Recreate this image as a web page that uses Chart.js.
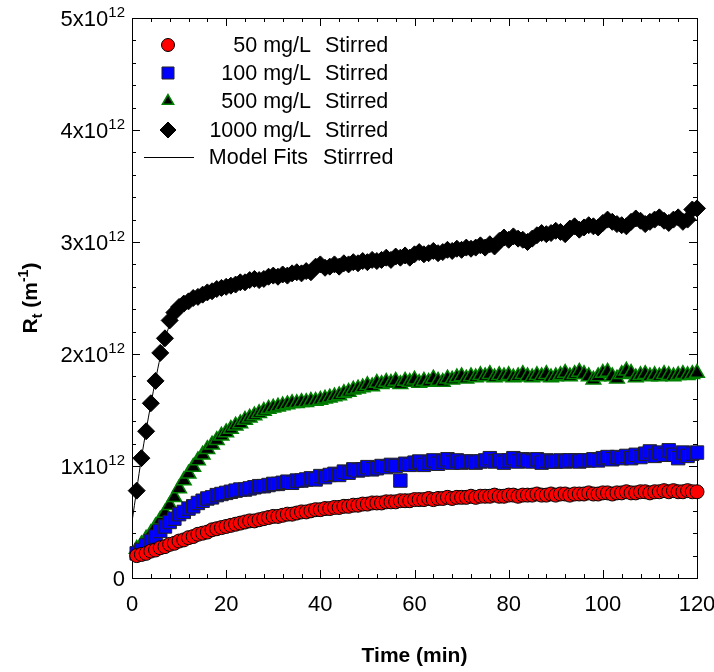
<!DOCTYPE html>
<html>
<head>
<meta charset="utf-8">
<script src="https://cdn.jsdelivr.net/npm/chart.js@4.4.1/dist/chart.umd.min.js"></script>
<style>
  html, body { margin: 0; background: #fff; }
</style>
</head>
<body>
<canvas id="chart" width="714" height="672"></canvas>
<script>
// R_t values in units of 10^12 m^-1, one sample per minute
const times = [1,2,3,4,5,6,7,8,9,10,11,12,13,14,15,16,17,18,19,20,21,22,23,24,25,26,27,28,29,30,
  31,32,33,34,35,36,37,38,39,40,41,42,43,44,45,46,47,48,49,50,51,52,53,54,55,56,57,58,59,60,
  61,62,63,64,65,66,67,68,69,70,71,72,73,74,75,76,77,78,79,80,81,82,83,84,85,86,87,88,89,90,
  91,92,93,94,95,96,97,98,99,100,101,102,103,104,105,106,107,108,109,110,111,112,113,114,115,116,117,118,119,120];

const r50 = [0.20,0.21,0.22,0.24,0.25,0.27,0.28,0.30,0.31,0.33,0.34,0.36,0.37,0.39,0.40,0.41,0.43,0.44,0.45,0.46,
  0.47,0.48,0.49,0.50,0.51,0.51,0.52,0.53,0.54,0.55,0.55,0.56,0.57,0.57,0.58,0.59,0.59,0.60,0.61,0.61,
  0.62,0.62,0.63,0.63,0.64,0.64,0.65,0.65,0.66,0.66,0.67,0.67,0.67,0.68,0.68,0.68,0.69,0.69,0.69,0.70,
  0.70,0.70,0.71,0.70,0.71,0.71,0.72,0.71,0.72,0.72,0.72,0.73,0.72,0.73,0.73,0.73,0.74,0.73,0.73,0.74,
  0.74,0.73,0.74,0.74,0.74,0.75,0.74,0.74,0.75,0.74,0.75,0.75,0.74,0.75,0.75,0.75,0.76,0.75,0.75,0.76,
  0.76,0.75,0.76,0.76,0.77,0.76,0.76,0.77,0.77,0.76,0.77,0.77,0.78,0.77,0.78,0.77,0.77,0.78,0.77,0.77];

const r100 = [0.22,0.25,0.29,0.33,0.37,0.42,0.46,0.50,0.53,0.57,0.59,0.62,0.64,0.67,0.69,0.71,0.72,0.74,0.75,0.76,
  0.77,0.78,0.79,0.79,0.80,0.81,0.82,0.82,0.83,0.84,0.84,0.85,0.86,0.85,0.87,0.87,0.88,0.89,0.88,0.91,
  0.90,0.92,0.93,0.92,0.95,0.94,0.97,0.96,0.97,0.99,0.97,0.98,1.00,0.99,1.01,1.00,0.87,1.02,1.01,1.03,
  1.04,1.01,1.03,1.05,1.02,1.04,1.06,1.03,1.05,1.03,1.04,1.04,1.03,1.04,1.05,1.07,1.04,1.05,1.03,1.05,
  1.07,1.04,1.06,1.05,1.04,1.06,1.03,1.05,1.04,1.04,1.05,1.04,1.05,1.05,1.04,1.05,1.05,1.06,1.05,1.07,
  1.08,1.06,1.08,1.07,1.09,1.07,1.10,1.08,1.11,1.13,1.09,1.12,1.10,1.14,1.10,1.07,1.12,1.09,1.11,1.12];

const r500 = [0.26,0.30,0.35,0.40,0.46,0.52,0.58,0.65,0.72,0.80,0.87,0.93,0.99,1.05,1.10,1.15,1.19,1.23,1.27,1.30,
  1.33,1.36,1.38,1.41,1.43,1.45,1.47,1.49,1.51,1.52,1.53,1.54,1.55,1.56,1.56,1.57,1.57,1.58,1.58,1.59,
  1.60,1.61,1.62,1.63,1.65,1.66,1.68,1.69,1.70,1.72,1.71,1.74,1.73,1.75,1.74,1.76,1.73,1.76,1.75,1.77,
  1.74,1.76,1.75,1.78,1.76,1.75,1.78,1.77,1.79,1.80,1.78,1.80,1.79,1.81,1.80,1.82,1.79,1.81,1.80,1.81,
  1.79,1.80,1.82,1.80,1.79,1.81,1.80,1.82,1.79,1.80,1.81,1.83,1.80,1.82,1.84,1.82,1.80,1.77,1.80,1.83,
  1.84,1.80,1.78,1.82,1.85,1.83,1.79,1.81,1.82,1.80,1.81,1.80,1.82,1.81,1.80,1.81,1.82,1.81,1.82,1.83];

const r1000 = [0.78,1.07,1.31,1.56,1.76,2.01,2.14,2.30,2.37,2.42,2.45,2.47,2.50,2.51,2.53,2.55,2.56,2.58,2.59,2.60,
  2.61,2.62,2.64,2.64,2.66,2.67,2.66,2.67,2.69,2.70,2.69,2.71,2.70,2.72,2.73,2.72,2.74,2.73,2.78,2.80,
  2.77,2.78,2.80,2.78,2.81,2.80,2.82,2.81,2.83,2.82,2.84,2.83,2.84,2.86,2.84,2.87,2.86,2.88,2.86,2.89,
  2.91,2.89,2.90,2.92,2.90,2.91,2.93,2.92,2.94,2.93,2.95,2.94,2.95,2.97,2.95,2.98,2.96,3.01,3.04,3.02,
  3.05,3.03,3.02,3.00,3.03,3.06,3.08,3.07,3.08,3.10,3.09,3.07,3.12,3.14,3.11,3.13,3.15,3.14,3.13,3.17,
  3.20,3.18,3.16,3.15,3.14,3.18,3.21,3.19,3.16,3.18,3.20,3.22,3.19,3.17,3.20,3.22,3.18,3.20,3.29,3.30];

// model fit curves
const fitTimes = [0,1,2,3,4,5,6,7,8,10,12,15,20,25,30,40,50,60,70,80,90,100,110,120];
const fit50   = [0.19,0.20,0.21,0.22,0.24,0.25,0.27,0.28,0.30,0.33,0.36,0.40,0.46,0.51,0.55,0.61,0.66,0.70,0.72,0.74,0.75,0.76,0.77,0.77];
const fit100  = [0.19,0.22,0.25,0.29,0.33,0.37,0.42,0.46,0.50,0.56,0.62,0.69,0.76,0.80,0.84,0.91,0.97,1.01,1.03,1.05,1.05,1.07,1.09,1.10];
const fit500  = [0.22,0.26,0.30,0.35,0.40,0.46,0.52,0.58,0.65,0.80,0.93,1.10,1.30,1.43,1.52,1.60,1.70,1.75,1.78,1.80,1.81,1.82,1.83,1.84];
const fit1000 = [0.50,0.79,1.07,1.32,1.55,1.77,1.97,2.13,2.26,2.40,2.47,2.53,2.60,2.65,2.70,2.78,2.84,2.89,2.94,3.01,3.08,3.15,3.19,3.26];

const seriesLabels = ['50 mg/L  Stirred', '100 mg/L  Stirred', '500 mg/L  Stirred', '1000 mg/L  Stirred'];
const fitLabel = 'Model Fits  Stirrred';

const FONT = "'Liberation Sans', Arial, Helvetica, sans-serif";
Chart.defaults.font.family = FONT;
Chart.defaults.font.size = 22;
Chart.defaults.color = '#000';

const pairs = (xs, ys) => xs.map((x, i) => ({ x, y: ys[i] }));

function markerSet(label, values, style, fill, stroke, radius, bw) {
  return {
    label, data: pairs(times, values), showLine: false, clip: false,
    pointStyle: style, pointRadius: radius, pointHoverRadius: radius,
    backgroundColor: fill, borderColor: stroke, pointBorderWidth: bw, order: 1
  };
}
function fitSet(values) {
  return {
    label: fitLabel, data: pairs(fitTimes, values), showLine: true, pointRadius: 0,
    borderColor: '#000', borderWidth: 1, fill: false, cubicInterpolationMode: 'monotone', order: 2
  };
}

function drawMarker(ctx, style, x, y, r, fill, stroke, bw) {
  ctx.beginPath();
  if (style === 'circle') {
    ctx.arc(x, y, r, 0, Math.PI * 2);
  } else if (style === 'rect') {
    const s = r * Math.SQRT1_2;
    ctx.rect(x - s, y - s, 2 * s, 2 * s);
  } else if (style === 'triangle') {
    for (let k = 0; k < 3; k++) {
      const a = k * 2 * Math.PI / 3;
      const px = x + Math.sin(a) * r, py = y - Math.cos(a) * r;
      k ? ctx.lineTo(px, py) : ctx.moveTo(px, py);
    }
    ctx.closePath();
  } else if (style === 'rectRot') {
    ctx.moveTo(x, y - r); ctx.lineTo(x + r, y); ctx.lineTo(x, y + r); ctx.lineTo(x - r, y);
    ctx.closePath();
  }
  ctx.fillStyle = fill; ctx.fill();
  ctx.lineWidth = bw; ctx.strokeStyle = stroke; ctx.stroke();
}

const framePlugin = {
  id: 'frame',
  beforeDatasetsDraw(chart) {
    const { ctx, chartArea: a, scales: { x, y } } = chart;
    ctx.save();
    ctx.strokeStyle = '#000';
    ctx.lineWidth = 1;
    ctx.strokeRect(a.left + 0.5, a.top + 0.5, a.right - a.left, a.bottom - a.top);
    ctx.beginPath();
    for (let v = 0; v <= 120; v += 4) {
      const px = Math.round(x.getPixelForValue(v)) + 0.5;
      const len = v % 20 === 0 ? 8 : 4;
      ctx.moveTo(px, a.bottom); ctx.lineTo(px, a.bottom - len);
      ctx.moveTo(px, a.top); ctx.lineTo(px, a.top + len);
    }
    for (let i = 0; i <= 25; i++) {
      const py = Math.round(y.getPixelForValue(i / 5)) + 0.5;
      const len = i % 5 === 0 ? 8 : 4;
      ctx.moveTo(a.left, py); ctx.lineTo(a.left + len, py);
      ctx.moveTo(a.right, py); ctx.lineTo(a.right - len, py);
    }
    ctx.stroke();

    // y tick labels with raised exponent
    ctx.fillStyle = '#000';
    ctx.textBaseline = 'alphabetic';
    y.ticks.forEach(t => {
      const py = y.getPixelForValue(t.value);
      let xr = a.left - 7;
      if (t.value === 0) {
        ctx.font = `22px ${FONT}`; ctx.textAlign = 'right';
        ctx.fillText('0', xr, py + 8);
        return;
      }
      ctx.font = `15px ${FONT}`; ctx.textAlign = 'right';
      ctx.fillText('12', xr, py - 1);
      xr -= ctx.measureText('12').width;
      ctx.font = `22px ${FONT}`;
      ctx.fillText(t.value + 'x10', xr, py + 8);
    });
    ctx.restore();
  },
  afterDraw(chart) {
    const { ctx, chartArea: a } = chart;
    ctx.save();
    // y axis title with subscript / superscript
    ctx.translate(30, (a.top + a.bottom) / 2);
    ctx.rotate(-Math.PI / 2);
    ctx.fillStyle = '#000';
    ctx.textBaseline = 'alphabetic';
    const parts = [['R', 21, 0], ['t', 14, 5], [' (m', 21, 0], ['-1', 14, -9], [')', 21, 0]];
    let w = 0;
    parts.forEach(p => { ctx.font = `bold ${p[1]}px ${FONT}`; w += ctx.measureText(p[0]).width; });
    let cx = -w / 2;
    parts.forEach(p => {
      ctx.font = `bold ${p[1]}px ${FONT}`;
      ctx.fillText(p[0], cx, 7 + p[2]);
      cx += ctx.measureText(p[0]).width;
    });
    ctx.restore();

    // legend
    ctx.save();
    ctx.font = `21.5px ${FONT}`;
    ctx.fillStyle = '#000';
    ctx.textBaseline = 'middle';
    const rows = chart.data.datasets.filter(d => d.order === 1);
    const rowY = [45, 73, 101, 130];
    rows.forEach((d, i) => {
      const yy = rowY[i];
      const r = d.pointStyle === 'rect' ? 8.5 : d.pointStyle === 'rectRot' ? 8 : 6.5;
      drawMarker(ctx, d.pointStyle, 168, yy, r, d.backgroundColor, d.borderColor, d.pointBorderWidth);
      const [conc, cond] = d.label.split('  ');
      ctx.fillStyle = '#000';
      ctx.textAlign = 'right'; ctx.fillText(conc, 311, yy + 1);
      ctx.textAlign = 'left'; ctx.fillText(cond, 325, yy + 1);
    });
    const [m1, m2] = fitLabel.split('  ');
    ctx.beginPath(); ctx.moveTo(144, 157.5); ctx.lineTo(194, 157.5);
    ctx.lineWidth = 1; ctx.strokeStyle = '#000'; ctx.stroke();
    ctx.textAlign = 'right'; ctx.fillText(m1, 308, 158);
    ctx.textAlign = 'left'; ctx.fillText(m2, 323, 158);
    ctx.restore();
  }
};

new Chart(document.getElementById('chart'), {
  type: 'scatter',
  data: {
    datasets: [
      markerSet(seriesLabels[0], r50, 'circle', '#ff0000', '#000', 7, 1),
      markerSet(seriesLabels[1], r100, 'rect', '#0000ff', '#222', 9.5, 1),
      markerSet(seriesLabels[2], r500, 'triangle', '#000', '#008000', 8.5, 1.5),
      markerSet(seriesLabels[3], r1000, 'rectRot', '#000', '#000', 8.5, 1),
      fitSet(fit50), fitSet(fit100), fitSet(fit500), fitSet(fit1000)
    ]
  },
  options: {
    responsive: false,
    animation: false,
    layout: { autoPadding: false, padding: { top: 18, right: 17, left: 0, bottom: 0 } },
    plugins: { legend: { display: false }, tooltip: { enabled: false } },
    scales: {
      x: {
        type: 'linear', min: 0, max: 120,
        grid: { display: false, drawTicks: false },
        border: { display: false },
        ticks: { stepSize: 20, padding: 14, maxRotation: 0 },
        title: { display: true, text: 'Time (min)', font: { size: 21, weight: 'bold' }, padding: { top: 0, bottom: 3 } },
        afterFit: s => { s.height = 94; s.paddingLeft = 0; s.paddingRight = 0; }
      },
      y: {
        type: 'linear', min: 0, max: 5,
        grid: { display: false, drawTicks: false },
        border: { display: false },
        ticks: { stepSize: 1, display: false },
        afterFit: s => { s.width = 132; s.paddingTop = 0; s.paddingBottom = 0; }
      }
    }
  },
  plugins: [framePlugin]
});
</script>
</body>
</html>
